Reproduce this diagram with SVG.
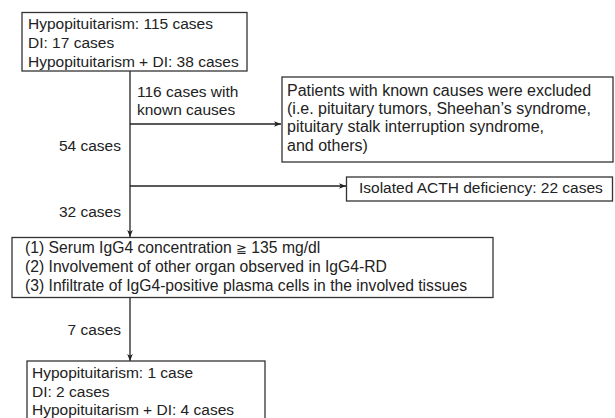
<svg xmlns="http://www.w3.org/2000/svg" width="615" height="418" viewBox="0 0 615 418">
<defs>
<style>
text{font-family:"Liberation Sans",Arial,sans-serif;font-size:15.5px;fill:#222}
.box{fill:#fff;stroke:#333;stroke-width:1.3}
.ln{fill:none;stroke:#222;stroke-width:1.3}
.r{text-anchor:end}
#excluded text{font-size:16px}
#criteria text{font-size:15.7px}
.sym{font-size:13px}
</style>
<marker id="ah" viewBox="0 0 10 10" refX="10" refY="5" markerWidth="7" markerHeight="7" markerUnits="userSpaceOnUse" orient="auto">
<path d="M0,1 L10,5 L0,9 L2.5,5 Z" fill="#222"/>
</marker>
</defs>
<rect width="615" height="418" fill="#fff"/>
<g id="connectors">
<line class="ln" x1="130" y1="71" x2="130" y2="237" marker-end="url(#ah)"/>
<line class="ln" x1="130" y1="124" x2="281" y2="124" marker-end="url(#ah)"/>
<line class="ln" x1="130" y1="186" x2="346" y2="186" marker-end="url(#ah)"/>
<line class="ln" x1="130" y1="298" x2="130" y2="361" marker-end="url(#ah)"/>
<text x="137" y="97">116 cases with</text>
<text x="137" y="115">known causes</text>
<text class="r" x="121" y="151">54 cases</text>
<text class="r" x="121" y="217">32 cases</text>
<text class="r" x="121" y="335">7 cases</text>
</g>
<g id="start">
<rect class="box" x="22" y="12.5" width="225" height="58.5"/>
<text x="28" y="28.5">Hypopituitarism: 115 cases</text>
<text x="28" y="47.5">DI: 17 cases</text>
<text x="28" y="66.5">Hypopituitarism + DI: 38 cases</text>
</g>
<g id="excluded">
<rect class="box" x="282" y="77" width="331" height="85"/>
<text x="287" y="95.5">Patients with known causes were excluded</text>
<text x="287" y="114">(i.e. pituitary tumors, Sheehan’s syndrome,</text>
<text x="287" y="132">pituitary stalk interruption syndrome,</text>
<text x="287" y="150.5">and others)</text>
</g>
<g id="acth">
<rect class="box" x="346.5" y="177" width="266" height="24"/>
<text x="359" y="192.5">Isolated ACTH deficiency: 22 cases</text>
</g>
<g id="criteria">
<rect class="box" x="12" y="237.5" width="481" height="60"/>
<text x="25" y="253">(1) Serum IgG4 concentration <tspan class="sym">≧</tspan> 135 mg/dl</text>
<text x="25" y="272">(2) Involvement of other organ observed in IgG4-RD</text>
<text x="25" y="291">(3) Infiltrate of IgG4-positive plasma cells in the involved tissues</text>
</g>
<g id="result">
<rect class="box" x="27" y="361" width="238" height="65"/>
<text x="32" y="377.5">Hypopituitarism: 1 case</text>
<text x="32" y="396.5">DI: 2 cases</text>
<text x="32" y="415">Hypopituitarism + DI: 4 cases</text>
</g>
</svg>
